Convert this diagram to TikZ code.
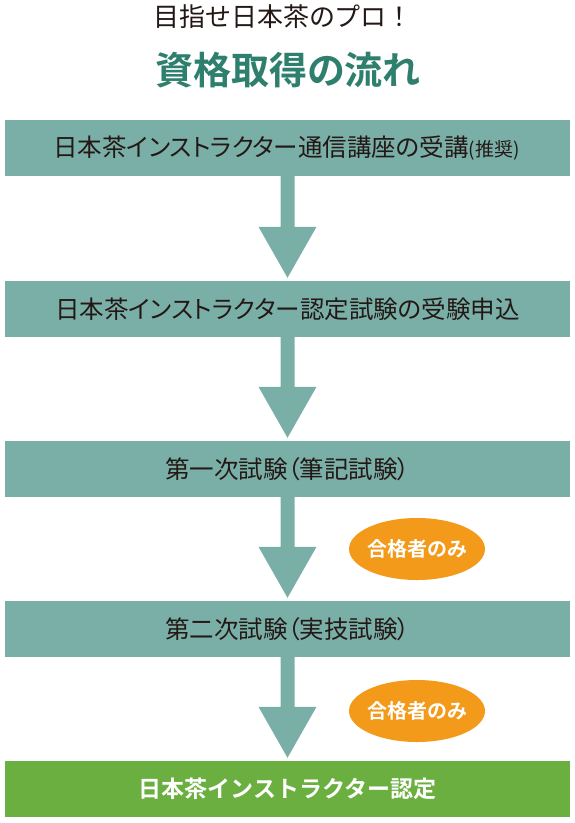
\documentclass[tikz,border=0pt]{standalone}
\usepackage{fontspec}
\setmainfont{Noto Sans CJK JP}
\newfontfamily\jpbold{Noto Sans CJK JP Bold}
\newfontfamily\jpprop[RawFeature=+palt]{Noto Sans CJK JP}
\usetikzlibrary{calc,shapes.geometric}
\definecolor{flowteal}{HTML}{7AAFA7}
\definecolor{finalgreen}{HTML}{6AAF3F}
\definecolor{badgeorange}{HTML}{F39A1A}
\definecolor{titlegreen}{HTML}{2E7F6E}
\definecolor{titledark}{HTML}{231815}
\begin{document}
\begin{tikzpicture}[x=1pt,y=1pt,
  stepbox/.style={fill=flowteal, minimum width=565pt, minimum height=56pt, inner sep=0pt, text=titledark, font=\jpprop\fontsize{24.5}{28}\selectfont},
  finalbox/.style={fill=finalgreen, minimum width=565pt, minimum height=56pt, inner sep=0pt, text=white, font=\jpbold\fontsize{23}{27}\selectfont},
  badge/.style={ellipse, fill=badgeorange, minimum width=136pt, minimum height=62pt, inner xsep=-5pt, inner ysep=0pt, text=white, font=\jpbold\fontsize{20}{23}\selectfont},
  flowarrow/.style={fill=flowteal}
]
\useasboundingbox (0,0) rectangle (575,-823);
\node[text=titledark, font=\fontsize{26}{29}\selectfont] (t1) at (283,-17) {目指せ日本茶のプロ！};
\node[text=titlegreen, font=\jpbold\fontsize{38}{42}\selectfont] (t2) at (288,-70) {資格取得の流れ};

\node[stepbox] (b1) at (287.5,-148) {\hspace{-2pt}日本茶インストラクター通信講座の受講{\fontsize{19}{21}\selectfont (推奨)}};
\node[stepbox] (b2) at (287.5,-309) {日本茶インストラクター認定試験の受験申込};
\node[stepbox] (b3) at (287.5,-469) {第一次試験（筆記試験）};
\node[stepbox] (b4) at (287.5,-629) {第二次試験（実技試験）};
\node[finalbox] (b5) at (287.5,-789) {日本茶インストラクター認定};

\foreach \a/\b in {b1/b2,b2/b3,b3/b4,b4/b5}{
  \fill[flowarrow] ($(\a.south)+(-7,0.5)$) -- ($(\b.north)+(-7,54)$) -- ($(\b.north)+(-29,54)$)
    -- ($(\b.north)+(0,3)$) -- ($(\b.north)+(29,54)$) -- ($(\b.north)+(7,54)$) -- ($(\a.south)+(7,0.5)$) -- cycle;
}

\node[badge] (g1) at (417,-549) {合格者のみ};
\node[badge] (g2) at (417,-711) {合格者のみ};
\end{tikzpicture}
\end{document}
